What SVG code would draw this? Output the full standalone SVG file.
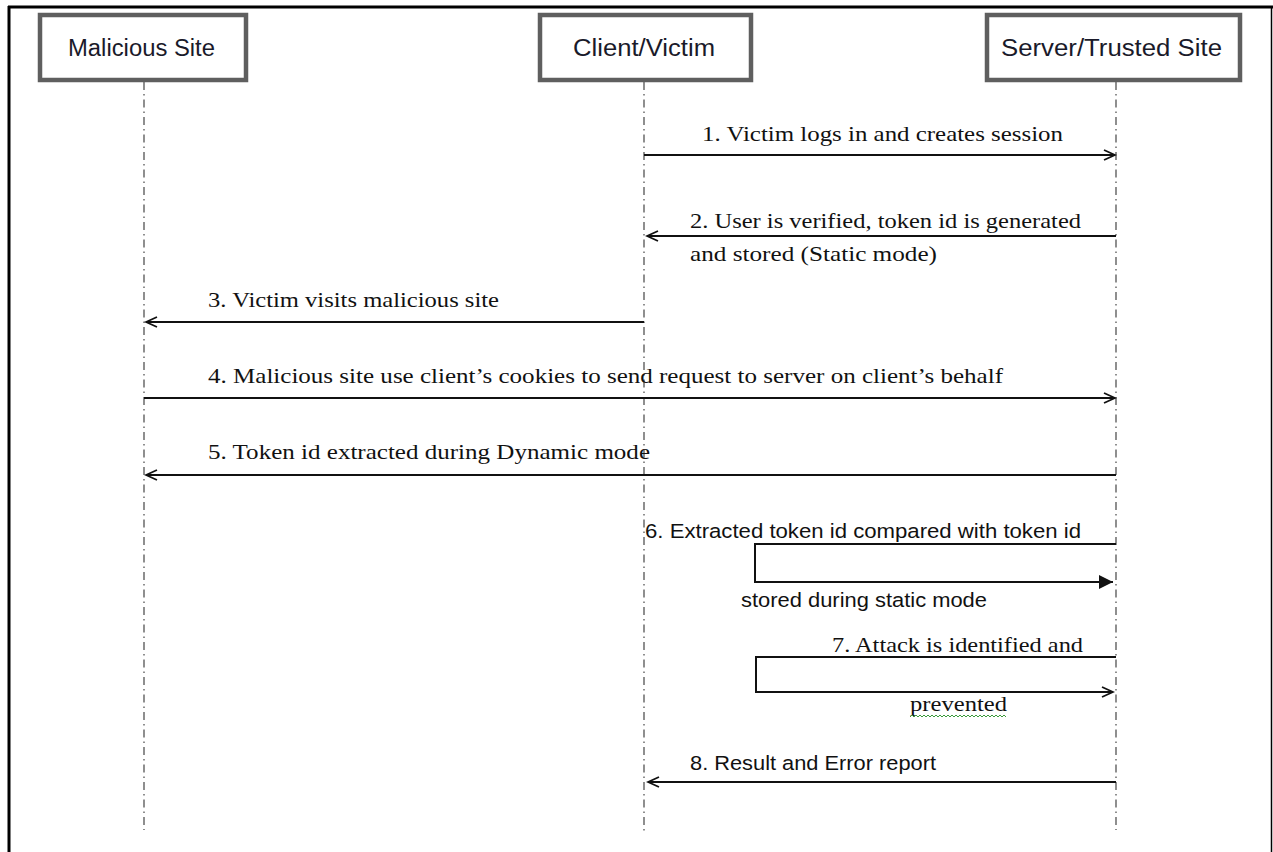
<svg xmlns="http://www.w3.org/2000/svg" width="1273" height="852" viewBox="0 0 1273 852">
<style>
.box{fill:#fff;stroke:#5f5f5f;stroke-width:4.5}
.hdr{font-family:"Liberation Sans","Open Sans",sans-serif;font-size:23px;fill:#1a1a2a}
.life{stroke:#606060;stroke-width:1.4;stroke-dasharray:8 4 1.5 4;fill:none}
.msg{stroke:#111;stroke-width:2;fill:none}
.ser{font-family:"Liberation Serif","DejaVu Serif",serif;font-size:22px;fill:#111}
.san{font-family:"Liberation Sans","Open Sans",sans-serif;font-size:20.5px;fill:#111}
</style>
<defs>
<marker id="open" markerWidth="14" markerHeight="12" refX="12" refY="6" orient="auto" markerUnits="userSpaceOnUse">
<path d="M1,1 L12,6 L1,11" fill="none" stroke="#111" stroke-width="1.8"/>
</marker>
<marker id="filled" markerWidth="16" markerHeight="14" refX="14" refY="7" orient="auto" markerUnits="userSpaceOnUse">
<path d="M0,0 L14,7 L0,14 Z" fill="#111"/>
</marker>
</defs>
<rect x="0" y="0" width="1273" height="852" fill="#fff"/>
<g id="frame" stroke="#000" fill="none">
<line x1="9" y1="6" x2="9" y2="852" stroke-width="3"/>
<line x1="8" y1="7" x2="1273" y2="7" stroke-width="3"/>
<line x1="1271.5" y1="7" x2="1271.5" y2="852" stroke-width="1.5"/>
</g>
<g id="lifelines">
<line class="life" x1="144" y1="82" x2="144" y2="830"/>
<line class="life" x1="644" y1="82" x2="644" y2="834"/>
<line class="life" x1="1116" y1="82" x2="1116" y2="830"/>
</g>
<g id="node-malicious">
<rect class="box" x="40" y="15" width="206" height="65"/>
<text class="hdr" x="68" y="56" textLength="147" lengthAdjust="spacingAndGlyphs">Malicious Site</text>
</g>
<g id="node-client">
<rect class="box" x="540" y="15" width="211" height="65"/>
<text class="hdr" x="573" y="56" textLength="142" lengthAdjust="spacingAndGlyphs">Client/Victim</text>
</g>
<g id="node-server">
<rect class="box" x="987" y="15" width="253" height="65"/>
<text class="hdr" x="1001" y="56" textLength="221" lengthAdjust="spacingAndGlyphs">Server/Trusted Site</text>
</g>
<g id="connectors">
<line class="msg" x1="644" y1="155" x2="1115" y2="155" marker-end="url(#open)"/>
<line class="msg" x1="1116" y1="236" x2="647" y2="236" marker-end="url(#open)"/>
<line class="msg" x1="644" y1="322" x2="146" y2="322" marker-end="url(#open)"/>
<line class="msg" x1="144" y1="398" x2="1115" y2="398" marker-end="url(#open)"/>
<line class="msg" x1="1116" y1="475" x2="146" y2="475" marker-end="url(#open)"/>
<polyline class="msg" points="1116,544 755,544 755,582 1113,582" marker-end="url(#filled)"/>
<polyline class="msg" points="1116,657 756,657 756,692 1113,692" marker-end="url(#open)"/>
<line class="msg" x1="1116" y1="782" x2="648" y2="782" marker-end="url(#open)"/>
</g>
<g id="labels">
<text class="ser" x="702" y="141" textLength="361" lengthAdjust="spacingAndGlyphs">1. Victim logs in and creates  session</text>
<text class="ser" x="690" y="228" textLength="391" lengthAdjust="spacingAndGlyphs">2. User is verified, token id is generated</text>
<text class="ser" x="690" y="261" textLength="247" lengthAdjust="spacingAndGlyphs">and stored  (Static  mode)</text>
<text class="ser" x="208" y="307" textLength="291" lengthAdjust="spacingAndGlyphs">3. Victim visits malicious site</text>
<text class="ser" x="208" y="383" textLength="795" lengthAdjust="spacingAndGlyphs">4. Malicious site use client’s  cookies to send request  to server  on client’s behalf</text>
<text class="ser" x="208" y="459" textLength="442" lengthAdjust="spacingAndGlyphs">5. Token id extracted  during  Dynamic mode</text>
<text class="san" x="645" y="538" textLength="436" lengthAdjust="spacingAndGlyphs">6. Extracted token id compared with token id</text>
<text class="san" x="741" y="607" textLength="246" lengthAdjust="spacingAndGlyphs">stored during static mode</text>
<text class="ser" x="832" y="652" textLength="251" lengthAdjust="spacingAndGlyphs">7. Attack is identified and</text>
<text class="ser" x="910" y="711" textLength="97" lengthAdjust="spacingAndGlyphs">prevented</text>
<path d="M910,717 l2,-2 l2,2 l2,-2 l2,2 l2,-2 l2,2 l2,-2 l2,2 l2,-2 l2,2 l2,-2 l2,2 l2,-2 l2,2 l2,-2 l2,2 l2,-2 l2,2 l2,-2 l2,2 l2,-2 l2,2 l2,-2 l2,2 l2,-2 l2,2 l2,-2 l2,2 l2,-2 l2,2 l2,-2 l2,2 l2,-2 l2,2 l2,-2 l2,2 l2,-2 l2,2 l2,-2 l2,2 l2,-2 l2,2 l2,-2 l2,2 l2,-2 l2,2 l2,-2 l2,2" fill="none" stroke="#3a9a3a" stroke-width="1"/>
<text class="san" x="690" y="770" textLength="246" lengthAdjust="spacingAndGlyphs">8. Result and Error report</text>
</g>
</svg>
